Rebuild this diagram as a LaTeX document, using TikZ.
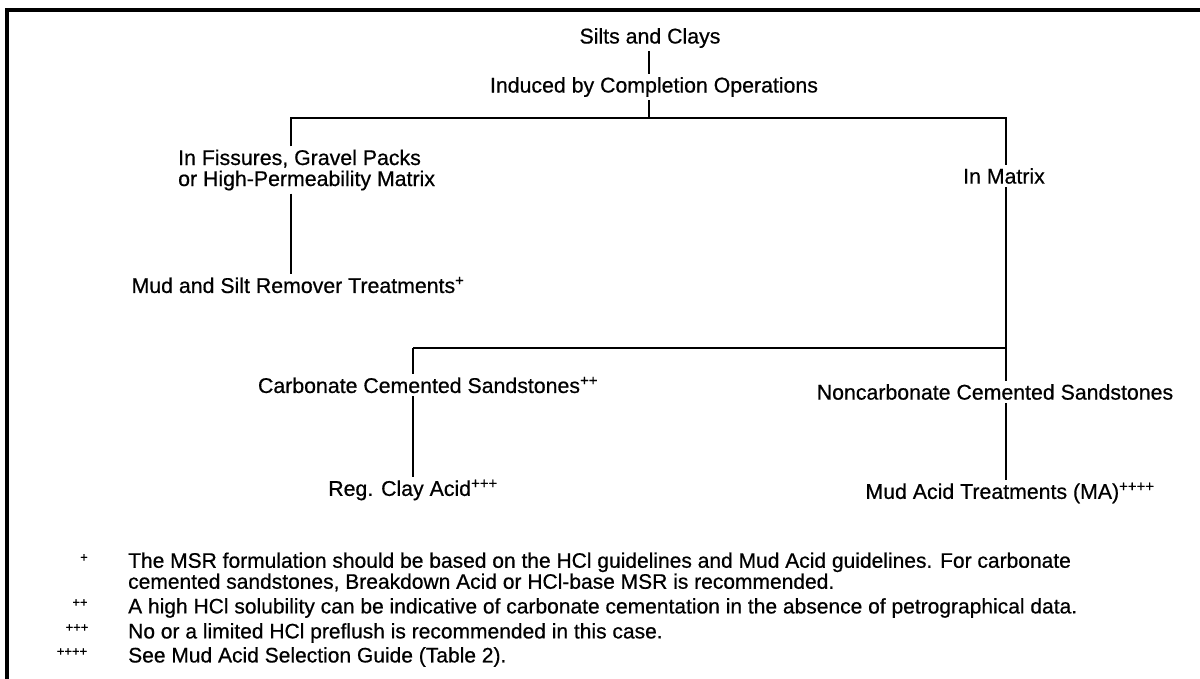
\documentclass[tikz,border=0pt]{standalone}
\usepackage{fontspec}
\setmainfont{Liberation Sans}[FakeBold=0.6]
\begin{document}
\begin{tikzpicture}[x=1pt,y=-1pt,
  lbl/.style={font=\fontsize{21.3}{24}\selectfont, inner sep=3pt, anchor=center},
  conn/.style={line width=2.8pt},
  fn/.style={font=\fontsize{21}{23}\selectfont, anchor=west, inner sep=0pt, align=left},
  fnmark/.style={font=\fontsize{13}{14}\selectfont, anchor=center, inner sep=0pt}]
\useasboundingbox (0,0) rectangle (1200,679);
% frame
\draw[line width=4.5pt] (7,679) -- (7,10) -- (1200,10);
% nodes
\node[lbl] (silts) at (650,38) {Silts and Clays};
\node[lbl] (induced) at (654,87) {Induced by Completion Operations};
\node[lbl, align=left, anchor=west] (fiss) at (175,170) {In Fissures, Gravel Packs\\[-3pt]or High-Permeability Matrix};
\node[lbl] (msr) at (298,285) {Mud and Silt Remover Treatments\textsuperscript{+}};
\node[lbl] (matrix) at (1004,176) {In Matrix};
\node[lbl] (carb) at (428,385) {Carbonate Cemented Sandstones\textsuperscript{++}};
\node[lbl] (noncarb) at (995,392) {Noncarbonate Cemented Sandstones};
\node[lbl] (reg) at (413,490) {Reg. Clay Acid\textsuperscript{+++}};
\node[lbl] (ma) at (1010,493) {Mud Acid Treatments (MA)\textsuperscript{++++}};
% junctions
\coordinate (h1L) at (291,118);
\coordinate (h1R) at (1006,118);
\coordinate (h2L) at (413,348);
\coordinate (top) at (649,118);
% connectors
\draw[conn] (silts.south -| top) -- (induced.north -| top);
\draw[conn] (induced.south -| top) -- (top);
\draw[conn] (fiss.north -| h1L) -- (h1L) -- (h1R) -- (matrix.north -| h1R);
\draw[conn] (fiss.south -| h1L) -- (msr.north -| h1L);
\draw[conn] (matrix.south -| h1R) -- (noncarb.north -| h1R);
\draw[conn] (h2L) -- (h2L -| h1R);
\draw[conn] (h2L) -- (carb.north -| h2L);
\draw[conn] (carb.south -| h2L) -- (reg.north -| h2L);
\draw[conn] (noncarb.south -| h1R) -- (ma.north -| h1R);
% footnotes
\node[fnmark] (m1) at (84,558) {+};
\node[fn] (f1) at (128,572) {The MSR formulation should be based on the HCl guidelines and Mud Acid guidelines. For carbonate\\[-2pt]cemented sandstones, Breakdown Acid or HCl-base MSR is recommended.};
\node[fnmark] (m2) at (80,603) {++};
\node[fn] (f2) at (128,608) {A high HCl solubility can be indicative of carbonate cementation in the absence of petrographical data.};
\node[fnmark] (m3) at (77,628) {+++};
\node[fn] (f3) at (128,633) {No or a limited HCl preflush is recommended in this case.};
\node[fnmark] (m4) at (72,652) {++++};
\node[fn] (f4) at (128,657) {See Mud Acid Selection Guide (Table 2).};
\end{tikzpicture}
\end{document}
